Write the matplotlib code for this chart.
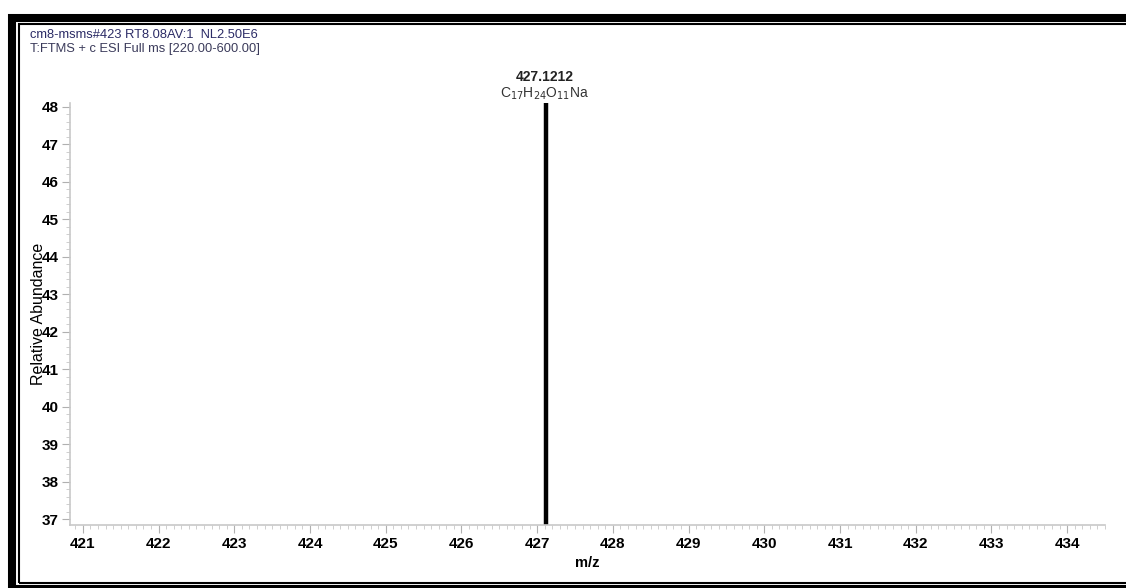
import matplotlib.pyplot as plt
from matplotlib.patches import Rectangle
from matplotlib.ticker import MultipleLocator

plt.rcParams['font.family'] = ['Liberation Sans', 'DejaVu Sans']

# spectrum data
mz = [427.1212]
intensity = [100.0]
peak_labels = ['427.1212']
peak_formula = [r'C$_{17}$H$_{24}$O$_{11}$Na']

header1 = 'cm8-msms#423 RT8.08AV:1  NL2.50E6'
header2 = 'T:FTMS + c ESI Full ms [220.00-600.00]'

W, H = 1126, 588
fig = plt.figure(figsize=(W/100, H/100), dpi=100)
ax = fig.add_axes([70/W, 1-525/H, (1105-70)/W, (525-103)/H])

# sticks
ax.vlines(mz, 0, intensity, color='black', lw=3.2)

ax.set_xlim(420.83, 434.5)
ax.set_ylim(36.84, 48.1)
ax.xaxis.set_major_locator(MultipleLocator(1))
ax.xaxis.set_minor_locator(MultipleLocator(0.1))
ax.yaxis.set_major_locator(MultipleLocator(1))
ax.yaxis.set_minor_locator(MultipleLocator(0.2))

for s in ['top', 'right']:
    ax.spines[s].set_visible(False)
for s in ['left', 'bottom']:
    ax.spines[s].set_color('#c8c8c8')
    ax.spines[s].set_linewidth(1.2)

ax.tick_params(which='major', length=6, color='#b0b0b0', labelsize=11, pad=4)
ax.tick_params(which='minor', length=3, color='#c8c8c8')
for lab in ax.get_xticklabels() + ax.get_yticklabels():
    lab.set_fontweight('bold')
ax.tick_params(axis='x', pad=3)
ax.tick_params(axis='y', pad=2)

ax.set_xlabel('m/z', fontsize=10.5, fontweight='bold')
ax.xaxis.set_label_coords(0.5, -(556-525)/(525-103))
ax.set_ylabel('Relative Abundance', fontsize=11.5)
ax.yaxis.set_label_coords(-(70-46)/(1105-70), 0.5)

# peak annotations
for x, lab, f in zip(mz, peak_labels, peak_formula):
    fig.text(545/W, 1-77/H, lab, ha='center', va='center', fontsize=10, fontweight='bold', color='#222222')
    fig.text(545/W, 1-94/H, f, ha='center', va='center', fontsize=10, color='#333333')

fig.text(30/W, 1-35/H, header1, ha='left', va='center', fontsize=9.3, color='#2b2b66')
fig.text(30/W, 1-49/H, header2, ha='left', va='center', fontsize=9.3, color='#3a3a5a')

# double border frame
fig.add_artist(Rectangle((12/W, -1/H), 1.2, 1-17/H, transform=fig.transFigure,
                         fill=False, lw=5.8, ec='black'))
fig.add_artist(Rectangle((19/W, 5/H), 1.2, 1-29/H, transform=fig.transFigure,
                         fill=False, lw=1.5, ec='black'))

plt.savefig('out.png', dpi=100)
